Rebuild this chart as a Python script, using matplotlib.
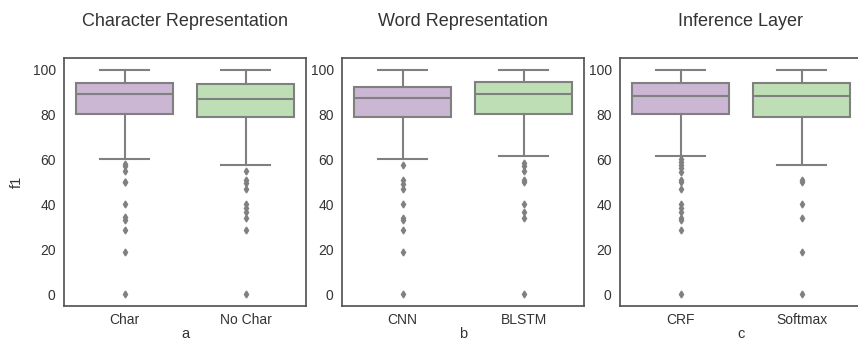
import matplotlib
matplotlib.use("Agg")
import matplotlib.pyplot as plt

plt.rcParams['font.family'] = ['Liberation Sans', 'DejaVu Sans']

# ---- data ----
titles = ["Character Representation", "Word Representation", "Inference Layer"]
panel_labels = ["a", "b", "c"]
categories = [["Char", "No Char"], ["CNN", "BLSTM"], ["CRF", "Softmax"]]

whislo = [[60.4, 57.5], [60.4, 61.6], [61.6, 57.5]]
q1 = [[80.4, 79.0], [79.0, 80.4], [80.4, 79.0]]
med = [[89.2, 86.9], [87.3, 89.2], [88.2, 88.2]]
q3 = [[94.1, 93.6], [92.2, 94.5], [93.8, 93.8]]
whishi = [[100.0, 100.0], [100.0, 100.0], [100.0, 100.0]]

outliers = [
    [[58.0, 56.9, 55.1, 50.2, 49.8, 40.3, 34.3, 33.2, 28.8, 18.8, 0.0],
     [54.8, 50.8, 49.5, 47.1, 40.3, 38.4, 36.5, 33.8, 28.8, 0.0]],
    [[57.5, 50.8, 49.0, 47.1, 40.3, 33.8, 33.2, 28.8, 18.8, 0.0],
     [58.3, 57.1, 54.9, 50.7, 49.8, 40.3, 36.6, 33.8, 0.0]],
    [[60.1, 59.1, 57.6, 56.1, 54.4, 50.9, 49.8, 47.1, 40.3, 38.4, 36.5, 33.8, 33.2, 28.8, 0.0],
     [50.7, 49.8, 40.3, 33.8, 18.8, 0.0]],
]

yticks = [0, 20, 40, 60, 80, 100]
box_colors = ["#cbb6d4", "#bedfb6"]
line_color = "#808080"
text_color = "#333333"

fig = plt.figure(figsize=(8.58, 3.43), dpi=100)
W, H = 858, 343
lefts = [64, 342, 620]
ax_w = 242
bottom_px, top_px = 305.7, 58.3

for i in range(3):
    ax = fig.add_axes([lefts[i] / W, (H - bottom_px) / H, ax_w / W, (bottom_px - top_px) / H])
    stats = []
    for j in range(2):
        stats.append(dict(whislo=whislo[i][j], q1=q1[i][j], med=med[i][j], q3=q3[i][j],
                          whishi=whishi[i][j], fliers=outliers[i][j], label=categories[i][j]))
    bp = ax.bxp(stats, positions=[0, 1], widths=0.8, patch_artist=True, showfliers=True,
                boxprops=dict(edgecolor=line_color, linewidth=1.5),
                medianprops=dict(color=line_color, linewidth=1.5),
                whiskerprops=dict(color=line_color, linewidth=1.5),
                capprops=dict(color=line_color, linewidth=1.5),
                flierprops=dict(marker='d', markersize=3.5, markerfacecolor=line_color,
                                markeredgecolor=line_color, linestyle='none'),
                capwidths=0.4)
    for patch, c in zip(bp['boxes'], box_colors):
        patch.set_facecolor(c)
    ax.set_xlim(-0.5, 1.5)
    ax.set_ylim(-5, 105)
    ax.set_yticks(yticks)
    ax.set_xticks([0, 1])
    ax.set_xticklabels(categories[i])
    ax.tick_params(axis='both', length=0, labelsize=10, colors=text_color, pad=6)
    ax.tick_params(axis='x', pad=5)
    for s in ax.spines.values():
        s.set_color("#555555")
        s.set_linewidth(1.25)
    ax.set_title(titles[i], fontsize=13, color=text_color, pad=23)
    ax.set_xlabel(panel_labels[i], fontsize=10.5, color=text_color, labelpad=0)
    if i == 0:
        ax.set_ylabel("f1", fontsize=10.5, color=text_color, labelpad=6)

fig.savefig("out.png", dpi=100)
